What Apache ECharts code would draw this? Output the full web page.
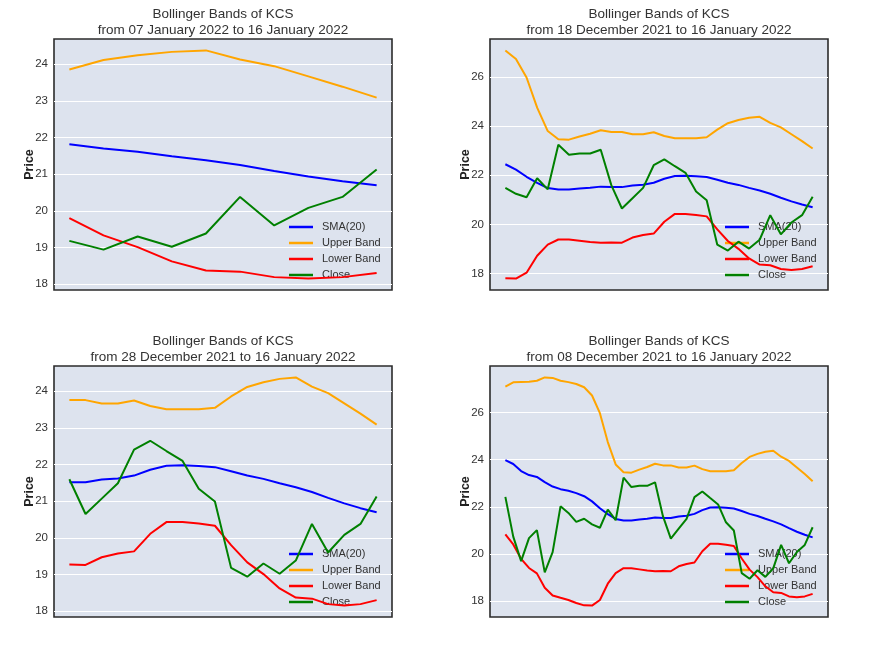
<!DOCTYPE html>
<html>
<head>
<meta charset="utf-8">
<script src="https://cdn.jsdelivr.net/npm/echarts@6/dist/echarts.min.js"></script>
<style>
  html, body { margin: 0; padding: 0; background: #fff; }
  #chart { width: 871px; height: 653px; }
</style>
</head>
<body>
<div id="chart"></div>
<script>
// daily data, 08 Dec 2021 .. 16 Jan 2022
var dates = [
  "2021-12-08", "2021-12-09", "2021-12-10", "2021-12-11", "2021-12-12", "2021-12-13", "2021-12-14", "2021-12-15",
  "2021-12-16", "2021-12-17", "2021-12-18", "2021-12-19", "2021-12-20", "2021-12-21", "2021-12-22", "2021-12-23",
  "2021-12-24", "2021-12-25", "2021-12-26", "2021-12-27", "2021-12-28", "2021-12-29", "2021-12-30", "2021-12-31",
  "2022-01-01", "2022-01-02", "2022-01-03", "2022-01-04", "2022-01-05", "2022-01-06", "2022-01-07", "2022-01-08",
  "2022-01-09", "2022-01-10", "2022-01-11", "2022-01-12", "2022-01-13", "2022-01-14", "2022-01-15", "2022-01-16"
];
var sma = [23.98, 23.82, 23.52, 23.35, 23.27, 23.05, 22.86, 22.75, 22.68, 22.58, 22.45, 22.23, 21.94, 21.69, 21.48, 21.42, 21.42, 21.46, 21.49, 21.54,
           21.52, 21.52, 21.59, 21.62, 21.70, 21.86, 21.97, 21.98, 21.96, 21.93, 21.82, 21.70, 21.61, 21.49, 21.38, 21.25, 21.09, 20.94, 20.81, 20.70];
var upper = [27.11, 27.29, 27.31, 27.32, 27.36, 27.50, 27.48, 27.36, 27.30, 27.22, 27.08, 26.73, 25.98, 24.75, 23.80, 23.47, 23.45, 23.58, 23.69, 23.83,
             23.76, 23.76, 23.67, 23.67, 23.75, 23.60, 23.51, 23.51, 23.51, 23.55, 23.86, 24.12, 24.25, 24.34, 24.38, 24.13, 23.95, 23.67, 23.39, 23.09];
var lower = [20.83, 20.40, 19.79, 19.40, 19.17, 18.56, 18.23, 18.13, 18.04, 17.91, 17.81, 17.80, 18.04, 18.73, 19.18, 19.39, 19.39, 19.34, 19.29, 19.26,
             19.27, 19.26, 19.47, 19.57, 19.63, 20.11, 20.43, 20.43, 20.39, 20.33, 19.80, 19.33, 19.01, 18.62, 18.37, 18.34, 18.19, 18.15, 18.19, 18.30];
var close = [22.42, 20.73, 19.69, 20.67, 21.01, 19.21, 20.07, 22.02, 21.74, 21.36, 21.49, 21.25, 21.11, 21.88, 21.43, 23.24, 22.84, 22.89, 22.89, 23.04,
             21.60, 20.65, 21.07, 21.49, 22.41, 22.65, 22.37, 22.10, 21.34, 20.99, 19.18, 18.94, 19.30, 19.02, 19.38, 20.38, 19.60, 20.08, 20.38, 21.13];

// panels: 10, 30, 20 and 40 day windows ending 16 Jan 2022
var panelStart = [30, 10, 20, 0];
var panelFrom = ["07 January 2022", "18 December 2021", "28 December 2021", "08 December 2021"];
var ticksNarrow = [18, 19, 20, 21, 22, 23, 24];
var ticksWide = [18, 20, 22, 24, 26];
var panelTicks = [ticksNarrow, ticksWide, ticksNarrow, ticksWide];

var seriesNames = ["SMA(20)", "Upper Band", "Lower Band", "Close"];
var seriesColors = ["#0000ff", "#ffa500", "#ff0000", "#008000"];
var seriesData = [sma, upper, lower, close];

var FONT = "Liberation Sans, Arial, sans-serif";
var boxes = [
  { left: 54, top: 39 }, { left: 490, top: 39 },
  { left: 54, top: 366 }, { left: 490, top: 366 }
];
var BOX_W = 338, BOX_H = 251;

var chart = echarts.init(document.getElementById("chart"));

var option = {
  animation: false,
  backgroundColor: "#ffffff",
  title: [], legend: [], grid: [], xAxis: [], yAxis: [], series: []
};

boxes.forEach(function (b, p) {
  var start = panelStart[p];
  var n = dates.length - start;
  var lo = Infinity, hi = -Infinity;
  seriesData.forEach(function (arr) {
    arr.slice(start).forEach(function (v) { lo = Math.min(lo, v); hi = Math.max(hi, v); });
  });
  var pad = (hi - lo) * 0.05;

  option.title.push({
    text: "Bollinger Bands of KCS\nfrom " + panelFrom[p] + " to 16 January 2022",
    left: b.left + BOX_W / 2,
    top: b.top - 33,
    textAlign: "center",
    padding: 0,
    textStyle: { fontFamily: FONT, fontSize: 13.5, fontWeight: "normal", color: "#333", lineHeight: 16 }
  });

  option.grid.push({
    left: b.left, top: b.top, width: BOX_W, height: BOX_H,
    show: true, backgroundColor: "#dde3ee", borderColor: "#2b2b2b", borderWidth: 1.6
  });

  option.xAxis.push({
    type: "value", gridIndex: p,
    min: -0.05 * (n - 1), max: 1.05 * (n - 1),
    axisLine: { show: false }, axisTick: { show: false },
    axisLabel: { show: false }, splitLine: { show: false }
  });

  option.yAxis.push({
    type: "value", gridIndex: p,
    min: lo - pad, max: hi + pad,
    name: "Price", nameLocation: "middle", nameGap: 18, nameRotate: 90,
    nameMoveOverlap: false,
    nameTextStyle: { fontFamily: FONT, fontSize: 12.5, fontWeight: "bold", color: "#222" },
    axisLine: { show: false },
    axisTick: { show: false, customValues: panelTicks[p] },
    axisLabel: { customValues: panelTicks[p], margin: 6, fontFamily: FONT, fontSize: 11.5, color: "#333" },
    splitLine: { show: true, lineStyle: { color: "#ffffff", width: 1 } }
  });

  option.legend.push({
    orient: "vertical",
    left: b.left + 235, top: b.top + 181,
    z: 1,
    padding: 0, itemGap: 2, itemWidth: 24, itemHeight: 2.5,
    icon: "rect",
    textStyle: { fontFamily: FONT, fontSize: 11, color: "#333", lineHeight: 14, padding: [0, 0, 0, 4] },
    data: seriesNames
  });

  seriesNames.forEach(function (name, s) {
    option.series.push({
      name: name, type: "line",
      xAxisIndex: p, yAxisIndex: p,
      showSymbol: false, symbol: "none",
      lineStyle: { color: seriesColors[s], width: 2 },
      itemStyle: { color: seriesColors[s] },
      data: seriesData[s].slice(start).map(function (v, i) { return [i, v]; })
    });
  });
});

chart.setOption(option);
</script>
</body>
</html>
